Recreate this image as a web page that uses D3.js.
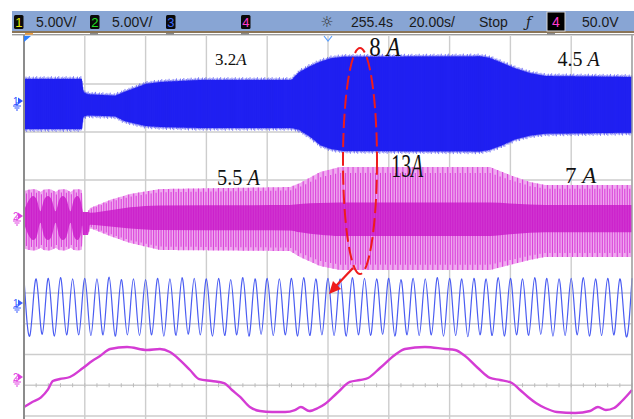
<!DOCTYPE html>
<html><head><meta charset="utf-8">
<script src="https://cdn.jsdelivr.net/npm/d3@7"></script>
<style>html,body{margin:0;padding:0;background:#fff}svg{display:block}</style>
</head><body>
<svg id="scope" width="634" height="419"></svg>
<script>
// ---- status line ----
const chanBadges = [
  {id: "1", color: "#e6e600", scale: "5.00V/"},
  {id: "2", color: "#22e022", scale: "5.00V/"},
  {id: "3", color: "#3a6cff", scale: ""},
  {id: "4", color: "#ff3ccf", scale: ""}
];
const timeDelay = "255.4s";
const timeBase = "20.00s/";
const runState = "Stop";
const trigSource = "4";
const trigLevel = "50.0V";

// ---- time axis: 10 divisions of 20 s ----
const timeDomain = [0, 200];
const timeTicks = d3.range(0, 201, 20);

// ---- channel 1, wide record: envelope of the carrier (V) ----
const ch1Time = [0, 19.0, 19.6, 21, 30, 33, 40, 45, 58, 88, 90.5, 94, 97.5, 101, 105, 150, 153, 157, 161.5, 166.5, 171.5, 200];
const ch1Top  = [2.29, 2.29, 0.9, 0.7, 0.55, 0.94, 1.77, 1.98, 2.19, 2.19, 3.0, 3.6, 4.1, 4.45, 4.6, 4.65, 4.5, 4.0, 3.4, 2.9, 2.6, 2.5];
const ch1Bot  = [-2.92, -2.92, -1.6, -1.5, -1.6, -2.08, -2.6, -2.71, -2.81, -2.81, -3.0, -3.7, -4.6, -5.0, -5.2, -5.25, -5.1, -4.65, -4.0, -3.6, -3.4, -3.3];

// ---- channel 2, wide record: outer envelope and dense core (V) ----
const ch2Time = [0, 1.7, 3.0, 4.2, 5.4, 6.6, 7.9, 9.1, 10.4, 11.6, 12.8, 14.0, 15.3, 16.4, 17.6, 18.6, 19.1, 19.4, 21.0, 21.7, 28.3, 34.9, 44.7, 87.5, 90.8, 97.4, 103.9, 153.3, 159.9, 166.4, 171.4, 200];
const ch2Top  = [2.6, 2.75, 2.8, 2.75, 2.5, 2.75, 2.8, 2.75, 2.5, 2.75, 2.8, 2.75, 2.5, 2.75, 2.8, 2.75, 2.7, 0.42, 0.42, 0.83, 1.67, 2.29, 2.81, 3.02, 3.44, 4.58, 5.10, 5.10, 4.27, 3.54, 3.23, 3.23];
const ch2Bot  = [-3.4, -3.55, -3.6, -3.55, -3.3, -3.55, -3.6, -3.55, -3.3, -3.55, -3.6, -3.55, -3.3, -3.55, -3.6, -3.55, -3.5, -1.98, -1.98, -1.25, -2.08, -2.81, -3.54, -3.65, -4.27, -5.21, -5.63, -5.63, -5.10, -4.58, -4.27, -4.27];
const coreTop = [0.6, 1.7, 2.08, 1.7, 0.5, 1.7, 2.08, 1.7, 0.5, 1.7, 2.08, 1.7, 0.5, 1.7, 2.08, 1.6, 0.8, 0.42, 0.42, 0.35, 0.6, 0.9, 1.1, 1.15, 1.25, 1.35, 1.4, 1.4, 1.3, 1.2, 1.15, 1.15];
const coreBot = [-0.8, -2.1, -2.5, -2.1, -0.7, -2.1, -2.5, -2.1, -0.7, -2.1, -2.5, -2.1, -0.7, -2.1, -2.5, -2.0, -1.0, -1.98, -1.98, -0.9, -1.1, -1.3, -1.46, -1.5, -1.7, -1.95, -2.08, -2.08, -1.9, -1.75, -1.7, -1.7];

// ---- channel 1, zoomed record: 4 s sine, crest values per cycle (V) ----
const sinePeriod = 4;
const sinePeaks   = [4.5, 4.4, 4.5, 4.6, 4.4, 4.5, 4.4, 4.7, 4.3, 4.4, 4.3, 4.5, 4.4, 4.6, 4.5, 4.4, 4.5, 4.3, 4.6, 4.4, 4.5, 4.4, 4.5, 4.6, 4.4, 4.5, 4.4, 4.6, 4.5, 4.4, 4.5, 4.3, 4.5, 4.4, 4.6, 4.5, 4.4, 4.5, 4.4, 4.6, 4.5, 4.4, 4.6, 4.5, 4.4, 4.5, 4.6, 4.4, 4.5, 4.4, 4.5];
const sineTroughs = [-4.7, -4.6, -4.9, -4.7, -4.7, -4.8, -4.7, -4.9, -4.7, -4.8, -4.7, -4.9, -4.8, -4.6, -4.7, -4.9, -4.8, -4.7, -4.9, -4.6, -4.8, -4.7, -4.9, -4.8, -4.7, -4.8, -4.9, -4.7, -4.8, -4.6, -4.9, -4.7, -4.8, -4.7, -4.9, -4.8, -5.0, -4.7, -4.8, -4.9, -4.7, -4.8, -4.6, -4.9, -4.8, -4.7, -4.9, -4.8, -4.7, -4.8];

// ---- channel 2, zoomed record: slow wave (time s, V) ----
const slowTime = [0, 2.6, 5.6, 7.9, 9.5, 11.8, 15.1, 19.4, 22.4, 25.0, 28.3, 33.9, 40.5, 44.7, 48.0, 51.3, 54.6, 57.6, 61.8, 65.8, 68.4, 71.1, 74.3, 77.6, 81.6, 85.9, 89.1, 91.1, 93.8, 96.7, 99.0, 103.0, 107.2, 110.5, 113.2, 117.1, 122.0, 125.3, 131.9, 138.5, 141.8, 145.1, 149.3, 153.3, 156.6, 160.5, 163.2, 165.8, 168.4, 171.4, 175.3, 181.3, 186.2, 188.8, 191.4, 194.1, 196.7, 200];
const slowVal  = [-4.9, -4.1, -3.3, -2.0, -0.65, -0.33, 0, 1.46, 2.6, 3.4, 4.55, 4.88, 4.39, 4.55, 4.07, 2.76, 1.14, -0.33, -0.65, -0.98, -2.11, -3.25, -4.88, -5.53, -5.69, -5.69, -5.37, -4.88, -5.53, -5.04, -4.39, -2.6, -0.81, -0.49, -0.16, 1.46, 3.58, 4.55, 4.88, 4.55, 4.39, 3.41, 1.46, -0.16, -0.49, -0.98, -2.11, -3.25, -4.23, -5.04, -5.69, -5.85, -5.53, -4.88, -5.37, -5.04, -3.9, -2.11];

// ---- annotations ----
const labels = [
  {num: "3.2", unit: "A", t: 62.8, v: 3.8, ch: "u1", size: 17, sx: 1},
  {num: "8 ", unit: "A", t: 113.6, v: 4.7, ch: "u1", size: 27, sx: 0.85},
  {num: "4.5 ", unit: "A", t: 175.5, v: 3.6, ch: "u1", size: 20, sx: 1},
  {num: "5.5 ", unit: "A", t: 63.5, v: 3.2, ch: "u2", size: 23, sx: 0.88},
  {num: "13", unit: "A", t: 120.8, v: 4.1, ch: "u2", size: 33, sx: 0.6},
  {num: "7 ", unit: "A", t: 178.0, v: 3.4, ch: "u2", size: 23, sx: 1}
];

const svg = d3.select("#scope");
const W = 634, H = 419;

const x = d3.scaleLinear().domain(timeDomain).range([24, 632]);
// upper pane: 5 V/div at 48 px/div
const yU1 = d3.scaleLinear().domain([-5, 5]).range([101 + 48, 101 - 48]);
const yU2 = d3.scaleLinear().domain([-5, 5]).range([216 + 48, 216 - 48]);
// lower pane: 5 V/div at 30.75 px/div
const yL1 = d3.scaleLinear().domain([-5, 5]).range([306 + 30.75, 306 - 30.75]);
const yL2 = d3.scaleLinear().domain([-5, 5]).range([377 + 30.75, 377 - 30.75]);
const gridUpper = d3.scaleLinear().domain([0, 4]).range([36, 228]);
const gridLower = d3.scaleLinear().domain([0, 4]).range([293, 416]);

// ---- graticule ----
const grid = svg.append("g");
grid.selectAll("line.v").data(timeTicks.slice(1)).join("line")
  .attr("x1", d => x(d)).attr("x2", d => x(d))
  .attr("y1", 36).attr("y2", H)
  .attr("stroke", "#cdcdcd").attr("stroke-width", 1.4);
grid.selectAll("line.hu").data(d3.range(1, 5)).join("line")
  .attr("x1", 24).attr("x2", 632)
  .attr("y1", d => gridUpper(d)).attr("y2", d => gridUpper(d))
  .attr("stroke", "#cdcdcd").attr("stroke-width", 1.4);
grid.selectAll("line.hl").data(d3.range(0, 5)).join("line")
  .attr("x1", 24).attr("x2", 632)
  .attr("y1", d => gridLower(d)).attr("y2", d => gridLower(d))
  .attr("stroke", "#cdcdcd").attr("stroke-width", 1.4);
// minor ticks on the lower centre line
const minor = d3.range(0, 200.01, 4);
grid.selectAll("line.mt").data(minor).join("line")
  .attr("x1", d => x(d)).attr("x2", d => x(d))
  .attr("y1", gridLower(3) - 2).attr("y2", gridLower(3) + 2)
  .attr("stroke", "#bcbcbc").attr("stroke-width", 1);

// ---- channel 1 envelope (upper) ----
const c1Top = d3.scaleLinear().domain(ch1Time).range(ch1Top);
const c1Bot = d3.scaleLinear().domain(ch1Time).range(ch1Bot);
const denseT = d3.range(0, 200.001, 0.25);
const ch1G = svg.append("g");
ch1G.append("path")
  .attr("d", d3.area().x(t => x(t)).y0(t => yU1(c1Bot(t))).y1(t => yU1(c1Top(t)))(denseT))
  .attr("fill", "#1c1cf5");
// carrier fringe along the envelope edges
const fringe = [0, 1.6, 0.6, 2.4, 1.0, 0.2, 1.9, 0.8, 2.8, 0.4, 1.3];
const hairT = d3.range(0, 200, 0.22);
ch1G.selectAll("line").data(hairT).join("line")
  .attr("x1", t => x(t)).attr("x2", t => x(t))
  .attr("y1", (t, i) => yU1(c1Top(t)) - fringe[i % fringe.length])
  .attr("y2", (t, i) => yU1(c1Bot(t)) + fringe[(i + 4) % fringe.length])
  .attr("stroke", "#2424f0").attr("stroke-width", 0.6);

// ---- channel 2 envelope (upper) ----
const c2Top = d3.scaleLinear().domain(ch2Time).range(ch2Top);
const c2Bot = d3.scaleLinear().domain(ch2Time).range(ch2Bot);
const kTop = d3.scaleLinear().domain(ch2Time).range(coreTop);
const kBot = d3.scaleLinear().domain(ch2Time).range(coreBot);
const ch2G = svg.append("g");
ch2G.append("path")
  .attr("d", d3.area().x(t => x(t)).y0(t => yU2(c2Bot(t))).y1(t => yU2(c2Top(t))).curve(d3.curveMonotoneX)(denseT))
  .attr("fill", "#efa8ef");
const stripeT = d3.range(0, 200, 0.82);
ch2G.selectAll("line").data(stripeT).join("line")
  .attr("x1", t => x(t)).attr("x2", t => x(t))
  .attr("y1", (t, i) => yU2(c2Top(t) * (i % 2 ? 0.88 : 1)))
  .attr("y2", (t, i) => yU2(c2Bot(t) * (i % 2 ? 0.9 : 1)))
  .attr("stroke", "#da44da").attr("stroke-width", 1.1);
const coreCurve = d3.area().x(d => x(d[0])).y0(d => yU2(d[2])).y1(d => yU2(d[1])).curve(d3.curveMonotoneX);
ch2G.append("path")
  .attr("d", coreCurve(ch2Time.map((t, i) => [t, coreTop[i], coreBot[i]])))
  .attr("fill", "#c818c8").attr("opacity", 0.8);

// ---- channel 1 sine (lower) ----
const extrema = [];
sinePeaks.forEach((v, i) => extrema.push([i * sinePeriod, v]));
sineTroughs.forEach((v, i) => extrema.push([i * sinePeriod + sinePeriod / 2, v]));
extrema.sort((a, b) => a[0] - b[0]);
svg.append("path")
  .attr("d", d3.line().x(d => x(d[0])).y(d => yL1(d[1])).curve(d3.curveNatural)(extrema))
  .attr("fill", "none").attr("stroke", "#4a5cf2").attr("stroke-width", 1.2);

// ---- channel 2 slow wave (lower) ----
const slowPts = slowTime.map((t, i) => [t, slowVal[i]]);
svg.append("path")
  .attr("d", d3.line().x(d => x(d[0])).y(d => yL2(d[1])).curve(d3.curveMonotoneX)(slowPts))
  .attr("fill", "none").attr("stroke", "#d43cd4").attr("stroke-width", 2.4);

// ---- frame ----
svg.append("line").attr("x1", 24).attr("x2", 24).attr("y1", 35).attr("y2", H)
  .attr("stroke", "#8c8c8c").attr("stroke-width", 2);
svg.append("line").attr("x1", 632).attr("x2", 632).attr("y1", 35).attr("y2", H)
  .attr("stroke", "#a0a0a0").attr("stroke-width", 1.4);

// ---- status bar ----
const tf = "Liberation Sans, Arial, sans-serif";
const bar = svg.append("g");
bar.append("rect").attr("x", 12).attr("y", 11).attr("width", W - 12).attr("height", 20).attr("fill", "#88a5d4");
bar.append("rect").attr("x", 12).attr("y", 31).attr("width", W - 12).attr("height", 2).attr("fill", "#8a7558");
bar.append("rect").attr("x", 12).attr("y", 34).attr("width", W - 12).attr("height", 1.4).attr("fill", "#9c9c9c");
const badgeX = [14, 90, 166, 241];
chanBadges.forEach((b, i) => {
  bar.append("rect").attr("x", badgeX[i]).attr("y", 15).attr("width", 9.5).attr("height", 14)
    .attr("rx", 1.5).attr("fill", "#0a0a0a");
  bar.append("text").attr("x", badgeX[i] + 4.8).attr("y", 27).attr("text-anchor", "middle")
    .attr("font-family", tf).attr("font-size", 13)
    .attr("fill", b.color).text(b.id);
  if (b.scale) bar.append("text").attr("x", badgeX[i] + 22).attr("y", 27)
    .attr("font-family", tf).attr("font-size", 14)
    .attr("fill", "#1a1a1a").text(b.scale);
});
bar.append("text").attr("x", 327).attr("y", 27).attr("text-anchor", "middle")
  .attr("font-family", "DejaVu Sans").attr("font-size", 15).attr("fill", "#333").text("☼");
bar.append("text").attr("x", 351).attr("y", 27).attr("font-family", tf).attr("font-size", 14).attr("fill", "#1a1a1a").text(timeDelay);
bar.append("text").attr("x", 409).attr("y", 27).attr("font-family", tf).attr("font-size", 14).attr("fill", "#1a1a1a").text(timeBase);
bar.append("text").attr("x", 479).attr("y", 27).attr("font-family", tf).attr("font-size", 14).attr("fill", "#1a1a1a").text(runState);
bar.append("text").attr("x", 526).attr("y", 27).attr("font-family", "DejaVu Serif").attr("font-style", "italic")
  .attr("font-size", 14).attr("fill", "#1a1a1a").text("ƒ");
bar.append("rect").attr("x", 547).attr("y", 12).attr("width", 18).attr("height", 19).attr("fill", "#000")
  .attr("stroke", "#d8d8d8").attr("stroke-width", 1);
bar.append("text").attr("x", 556).attr("y", 27).attr("text-anchor", "middle").attr("font-family", tf)
  .attr("font-size", 14).attr("fill", "#ff3ccf").text(trigSource);
bar.append("text").attr("x", 582).attr("y", 27).attr("font-family", tf).attr("font-size", 14).attr("fill", "#1a1a1a").text(trigLevel);
// small position markers under the bar
[[25, "#f0a040"], [90, "#8a8a8a"], [166, "#8a8a8a"], [241, "#8a8a8a"], [547, "#8a8a8a"]].forEach(([px, c]) => {
  bar.append("rect").attr("x", px).attr("y", 33).attr("width", 8).attr("height", 1.6).attr("fill", c);
});
// time reference markers
svg.append("path").attr("d", "M24,36 L31,36 L24,42 Z").attr("fill", "#2b7fff");
svg.append("path").attr("d", `M${x(100) - 4},36 L${x(100)},41 L${x(100) + 4},36`)
  .attr("fill", "none").attr("stroke", "#5aa0ff").attr("stroke-width", 1.2);

// ---- channel ground markers ----
function gndMarker(y, label, color) {
  const g = svg.append("g").attr("fill", color).attr("stroke", color);
  g.append("text").attr("x", 13).attr("y", y + 4).attr("font-family", tf).attr("font-size", 10)
    .attr("stroke", "none").text(label);
  g.append("path").attr("d", `M18,${y - 3.5} L23,${y} L18,${y + 3.5} Z`).attr("stroke", "none");
  g.append("path").attr("d", `M17,${y + 1} V${y + 5} M13,${y + 5} H21 M14.5,${y + 7} H19.5 M16,${y + 9} H18`)
    .attr("fill", "none").attr("stroke-width", 1);
}
gndMarker(yU1(0), "1", "#2a50ff");
gndMarker(yU2(0), "2", "#e040e0");
gndMarker(303, "1", "#3a5cff");
gndMarker(377, "2", "#e040e0");

// ---- annotations ----
const yFor = {u1: yU1, u2: yU2};
labels.forEach(l => {
  const px = x(l.t), py = yFor[l.ch](l.v);
  const t = svg.append("text")
    .attr("transform", `translate(${px},${py}) scale(${l.sx},1)`)
    .attr("font-family", "Liberation Serif, Times New Roman, serif")
    .attr("font-size", l.size).attr("fill", "#111");
  t.append("tspan").text(l.num);
  t.append("tspan").attr("font-style", "italic").text(l.unit);
});

// ---- highlight ring and pointer ----
svg.append("ellipse").attr("cx", 360).attr("cy", 161).attr("rx", 17).attr("ry", 113)
  .attr("fill", "none").attr("stroke", "#ee1c1c").attr("stroke-width", 2)
  .attr("stroke-dasharray", "14,5");
svg.append("path").attr("d", "M353,268 L336,286").attr("stroke", "#ee1c1c").attr("stroke-width", 2.2);
svg.append("path").attr("d", "M329,294 L333,281 L341,289 Z").attr("fill", "#ee1c1c");
</script>
</body></html>
